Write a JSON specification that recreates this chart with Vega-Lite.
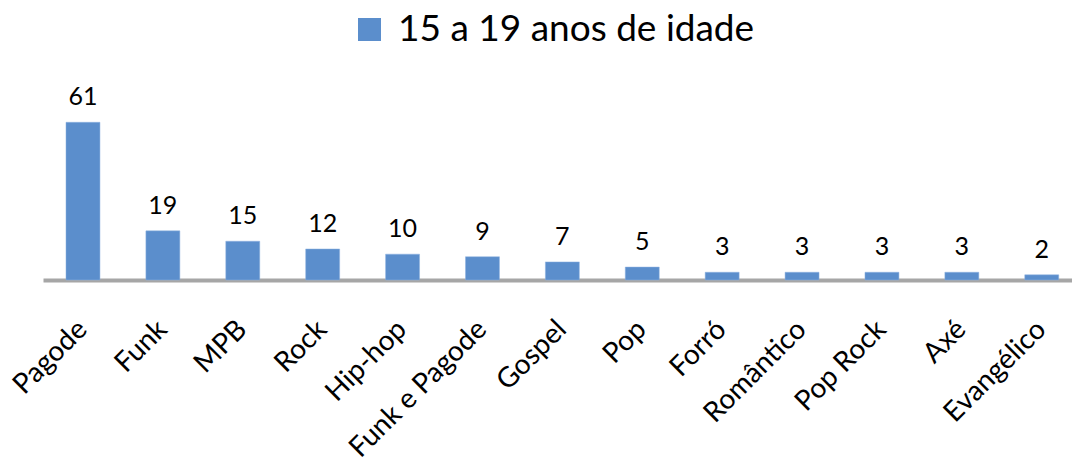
{
  "$schema": "https://vega.github.io/schema/vega-lite/v6.json",
  "autosize": "none",
  "width": 1029,
  "height": 181,
  "padding": {"left": 43, "top": 99, "right": 0, "bottom": 185},
  "background": "white",
  "config": {"view": {"stroke": null}, "font": "Lato"},
  "data": {
    "values": [
      {"genero": "Pagode", "valor": 61, "serie": "15 a 19 anos de idade"},
      {"genero": "Funk", "valor": 19, "serie": "15 a 19 anos de idade"},
      {"genero": "MPB", "valor": 15, "serie": "15 a 19 anos de idade"},
      {"genero": "Rock", "valor": 12, "serie": "15 a 19 anos de idade"},
      {"genero": "Hip-hop", "valor": 10, "serie": "15 a 19 anos de idade"},
      {"genero": "Funk e Pagode", "valor": 9, "serie": "15 a 19 anos de idade"},
      {"genero": "Gospel", "valor": 7, "serie": "15 a 19 anos de idade"},
      {"genero": "Pop", "valor": 5, "serie": "15 a 19 anos de idade"},
      {"genero": "Forró", "valor": 3, "serie": "15 a 19 anos de idade"},
      {"genero": "Romântico", "valor": 3, "serie": "15 a 19 anos de idade"},
      {"genero": "Pop Rock", "valor": 3, "serie": "15 a 19 anos de idade"},
      {"genero": "Axé", "valor": 3, "serie": "15 a 19 anos de idade"},
      {"genero": "Evangélico", "valor": 2, "serie": "15 a 19 anos de idade"}
    ]
  },
  "encoding": {
    "x": {
      "field": "genero",
      "type": "nominal",
      "sort": null,
      "scale": {"paddingInner": 0.575, "paddingOuter": 0.227, "align": 0.634},
      "axis": {
        "title": null,
        "labelAngle": -45,
        "labelAlign": "right",
        "labelBaseline": "middle",
        "labelFontSize": 28,
        "labelColor": "#000000",
        "labelPadding": 45,
        "labelOffset": 0,
        "labelLimit": 400,
        "ticks": false,
        "domainColor": "#a6a6a6",
        "domainWidth": 4,
        "labelOverlap": false
      }
    },
    "y": {
      "field": "valor",
      "type": "quantitative",
      "scale": {"domain": [0, 70]},
      "axis": null
    }
  },
  "layer": [
    {
      "mark": {"type": "bar", "stroke": "#8fb3e0", "strokeWidth": 0.5},
      "encoding": {
        "color": {
          "field": "serie",
          "type": "nominal",
          "scale": {"range": ["#5b8ecc"]},
          "legend": {
            "title": null,
            "orient": "none",
            "legendX": 308,
            "legendY": -88,
            "symbolType": "square",
            "symbolSize": 529,
            "symbolStrokeWidth": 0,
            "labelFontSize": 37,
            "labelColor": "#000000",
            "labelOffset": 10,
            "labelLimit": 600
          }
        }
      }
    },
    {
      "mark": {"type": "text", "baseline": "alphabetic", "dy": -17, "fontSize": 25, "color": "#000000"},
      "encoding": {"text": {"field": "valor", "type": "quantitative"}}
    }
  ]
}
